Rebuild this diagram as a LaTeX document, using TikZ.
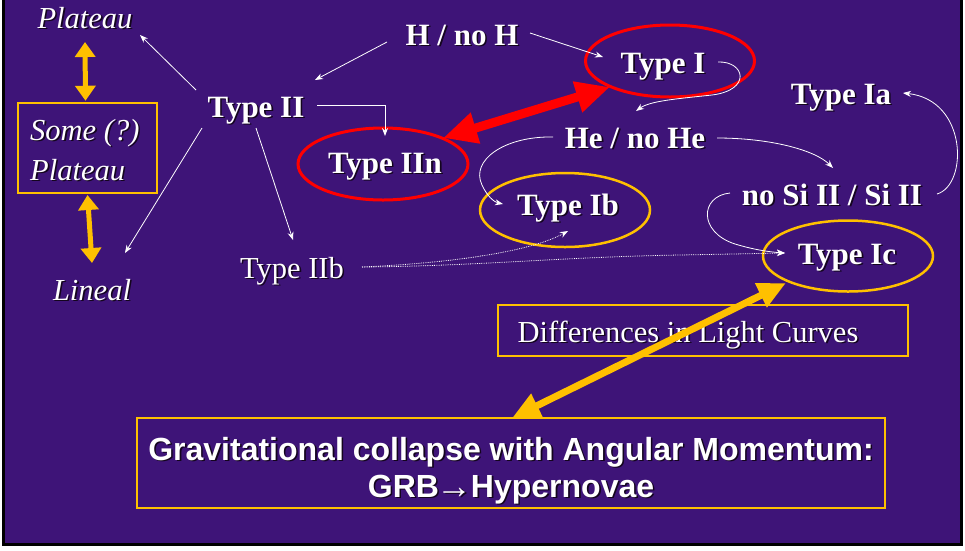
\documentclass[tikz,border=0pt]{standalone}
\usepackage{fontspec}
\setmainfont{Liberation Serif}
\newfontfamily\sansbold{Liberation Sans}
\usetikzlibrary{arrows.meta,shapes.geometric}
\definecolor{bgpurple}{RGB}{62,20,120}
\definecolor{snyellow}{RGB}{255,192,0}
\definecolor{snred}{RGB}{255,0,0}
\definecolor{shadowcol}{RGB}{20,5,30}
\newcommand{\shd}[1]{\rlap{\kern1.6pt\raisebox{-1.6pt}{\textcolor{shadowcol}{#1}}}#1}
\begin{document}
\begin{tikzpicture}[x=1pt,y=-1pt,
  txt/.style={text=white, inner sep=0pt, anchor=base},
  boldlbl/.style={txt, font=\fontsize{31}{34}\selectfont\bfseries},
  itallbl/.style={txt, font=\fontsize{30.5}{34}\selectfont\itshape},
  reglbl/.style={txt, font=\fontsize{30.5}{34}\selectfont},
  sanslbl/.style={txt, font=\sansbold\fontsize{32}{37}\selectfont\bfseries},
  oval/.style={ellipse, draw, inner sep=0pt},
  redoval/.style={oval, draw=snred, line width=3pt},
  yeloval/.style={oval, draw=snyellow, line width=2.5pt},
  ybox/.style={draw=snyellow, line width=2.5pt, inner sep=0pt},
  conn/.style={draw=white, line width=0.8pt, -{Stealth[length=8pt,width=6pt]}},
  dconn/.style={conn, densely dotted},
  bigred/.style={draw=snred, line width=9pt, {Triangle[length=34pt,width=30pt]}-{Triangle[length=34pt,width=30pt]}},
  bigyel/.style={draw=snyellow, line width=7pt, {Triangle[length=28pt,width=25pt]}-{Triangle[length=28pt,width=25pt]}},
  smallyel/.style={draw=snyellow, line width=5pt, {Triangle[length=15pt,width=20pt]}-{Triangle[length=15pt,width=20pt]}},
]
\useasboundingbox (0,0) rectangle (965,550);
\fill[white] (0,0) rectangle (965,550);
\fill[bgpurple] (3,0) rectangle (961,544);
\draw[black, line width=3pt] (3,-5) -- (3,544) -- (961,544) -- (961,-5);

% left column
\node[itallbl] (plat) at (85,28) {\shd{Plateau}};
\node[ybox, minimum width=139pt, minimum height=90pt] (somebox) at (87.5,148) {};
\node[itallbl, anchor=base west] (some1) at (30,140) {\shd{Some (?)}};
\node[itallbl, anchor=base west] (some2) at (30,180) {\shd{Plateau}};
\node[itallbl] (lin) at (92,300) {\shd{Lineal}};

% main labels
\node[boldlbl] (t2) at (256,117) {\shd{Type II}};
\node[boldlbl] (hnoh) at (462,45) {\shd{H / no H}};
\node[redoval, minimum width=169pt, minimum height=72pt] (t1e) at (670,61) {};
\node[boldlbl] (t1) at (663,73) {\shd{Type I}};
\node[boldlbl] (t1a) at (841,104) {\shd{Type Ia}};
\node[redoval, minimum width=170pt, minimum height=72pt] (t2ne) at (383,164) {};
\node[boldlbl] (t2n) at (385,173) {\shd{Type IIn}};
\node[boldlbl] (hehe) at (635,148) {\shd{He / no He}};
\node[yeloval, minimum width=170pt, minimum height=74pt] (tbe) at (565,210) {};
\node[boldlbl] (tb) at (568,215) {\shd{Type Ib}};
\node[boldlbl] (nosi) at (832,205) {\shd{no Si II / Si II}};
\node[yeloval, minimum width=170pt, minimum height=71pt] (tce) at (848,256) {};
\node[boldlbl] (tc) at (847,264) {\shd{Type Ic}};
\node[reglbl] (t2b) at (292,278) {\shd{Type IIb}};

% boxes
\node[ybox, minimum width=410pt, minimum height=51pt] (diffbox) at (703,330.5) {};
\node[reglbl] (diff) at (688,342) {\shd{Differences in Light Curves}};
\node[ybox, minimum width=748pt, minimum height=90pt] (gravbox) at (511,463) {};
\node[sanslbl] (grav1) at (511,460) {\shd{Gravitational collapse with Angular Momentum:}};
\node[sanslbl] (grav2) at (511,497) {\shd{GRB\kern-2pt{\fontsize{36}{36}\selectfont\raisebox{-1pt}{→}}\kern-2ptHypernovae}};

% thin connectors
\draw[conn] ([shift={(-60,-27)}]t2.base) -- ([shift={(55,7)}]plat.base);
\draw[conn] ([shift={(-54,11)}]t2.base) -- ([shift={(33,-47)}]lin.base);
\draw[conn] ([shift={(0,11)}]t2.base) -- ([shift={(1,-38)}]t2b.base);
\draw[conn] ([shift={(61,-12)}]t2.base) -| ([shift={(0,-37)}]t2n.base);
\draw[conn] ([shift={(-75,-3)}]hnoh.base) -- ([shift={(59,-37)}]t2.base);
\draw[conn] ([shift={(68,-12)}]hnoh.base) -- ([shift={(-60,-16)}]t1.base);
\draw[conn] ([shift={(55,-11)}]t1.base) .. controls (745,61) and (752,90) .. (712,95)
  .. controls (675,99) and (650,101) .. ([shift={(1,-37)}]hehe.base);
\draw[conn] ([shift={(-82,-11)}]hehe.base) .. controls (505,136) and (470,160) .. (482,185)
  .. controls (487,196) and (494,202) .. ([shift={(-65,-11)}]tb.base);
\draw[conn] ([shift={(82,-10)}]hehe.base) .. controls (770,138) and (815,150) .. ([shift={(1,-37)}]nosi.base);
\draw[conn] ([shift={(105,-11)}]nosi.base) .. controls (968,185) and (968,100) .. ([shift={(62,-11)}]t1a.base);
\draw[conn] ([shift={(-102,-12)}]nosi.base) .. controls (700,196) and (698,232) .. (735,244)
  .. controls (755,250) and (770,252) .. ([shift={(-62,-11)}]tc.base);
\draw[dconn] ([shift={(70,-11)}]t2b.base) .. controls (450,263) and (530,252) .. ([shift={(0,16)}]tb.base);
\draw[dconn] ([shift={(70,-11)}]t2b.base) .. controls (480,266) and (560,257) .. (680,255)
  -- ([shift={(-62,-11)}]tc.base);

% thick arrows
\draw[bigred] ([shift={(60,-26)}]t2ne.center) -- ([shift={(-60,26)}]t1e.center);
\draw[bigyel] ([shift={(1,-45)}]gravbox.center) -- ([shift={(-62,27)}]tce.center);
\draw[smallyel] ([shift={(0,14)}]plat.base) -- ([shift={(-2,-1)}]somebox.north);
\draw[smallyel] ([shift={(0,47)}]somebox.center) -- ([shift={(0,-37)}]lin.base);
\end{tikzpicture}
\end{document}
